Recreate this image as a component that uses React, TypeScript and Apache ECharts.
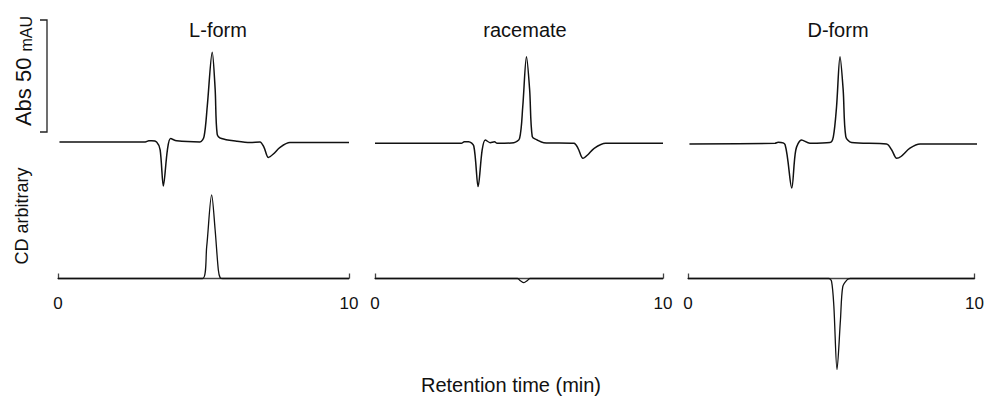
import React, { useEffect, useRef } from "react";
import * as echarts from "echarts";

const panelTitles = ["L-form", "racemate", "D-form"];
const xAxisTitle = "Retention time (min)";
const absLabel = "Abs 50 ";
const absUnit = "mAU";
const cdLabel = "CD arbitrary";
const xMin = 0;
const xMax = 10;

// [time (min), absorbance (mAU, relative to baseline)]
const lFormAbs = [
  [0.05, 0], [3.0, 0], [3.12, 0.5], [3.22, 0.5], [3.39, 0], [3.51, -3.5], [3.62, -19.7],
  [3.76, -3.5], [3.87, 1.5], [4.08, 0.5], [4.88, 0], [5.02, 2.5], [5.13, 16], [5.3, 40],
  [5.4, 23.6], [5.47, 3.5], [5.62, 1.5], [6.14, 0.3], [6.6, -0.3], [6.94, 0], [7.08, -2.4],
  [7.23, -6.9], [7.4, -5.4], [7.63, -2.4], [7.97, -0.3], [10.0, -0.3],
];
const racemateAbs = [
  [0, 0], [3.0, 0], [3.1, 0.7], [3.25, 0.7], [3.43, -1.2], [3.58, -19.3], [3.72, -3],
  [3.83, 1.5], [4.0, 0.3], [4.15, 0.7], [4.24, 0], [4.82, 0.3], [5.02, 2.2], [5.13, 16.3],
  [5.26, 38.6], [5.37, 23.8], [5.46, 3], [5.63, 1.5], [5.86, 0.3], [6.91, 0], [7.05, -2.2],
  [7.22, -6.7], [7.38, -5.2], [7.61, -2.2], [8.01, 0], [10.0, 0],
];
const dFormAbs = [
  [0.05, 0], [3.01, 0.3], [3.12, 0.7], [3.36, -0.4], [3.59, -19.7], [3.73, -2.7], [3.93, 1.8],
  [4.22, 0.3], [4.91, 0.6], [5.03, 3.3], [5.14, 16.6], [5.26, 38.9], [5.37, 24], [5.46, 3.3],
  [5.66, 0.6], [6.87, 0], [7.05, -2.7], [7.22, -6.4], [7.37, -5.6], [7.68, -1.9], [8.03, 0],
  [10.0, 0],
];

// [time (min), CD signal (arbitrary)]
const lFormCD = [
  [0, 0], [4.97, 0], [5.11, 34.6], [5.28, 90.8], [5.4, 52.7], [5.51, 9.2], [5.57, 1], [5.66, 0], [10, 0],
];
const racemateCD = [
  [0, 0], [4.95, 0], [5.05, -2.5], [5.17, -4.5], [5.28, -2.5], [5.38, 0], [10, 0],
];
const dFormCD = [
  [0, 0], [4.91, 0], [5.01, -3], [5.09, -30], [5.2, -99], [5.32, -45], [5.4, -9], [5.55, -1.5], [5.66, 0], [10, 0],
];

const absTraces = [lFormAbs, racemateAbs, dFormAbs];
const cdTraces = [lFormCD, racemateCD, dFormCD];

const FONT = "'Liberation Sans', Arial, Helvetica, sans-serif";
const INK = "#111";

export default function App() {
  const ref = useRef<HTMLDivElement>(null);

  useEffect(() => {
    if (!ref.current) return;
    const chart = echarts.init(ref.current, undefined, { renderer: "svg" });

    const lefts = [58, 375, 688];
    const widths = [291, 288, 289];
    const topTops = [41, 42.4, 43];

    const grids: any[] = [];
    const xAxes: any[] = [];
    const yAxes: any[] = [];
    const series: any[] = [];

    for (let i = 0; i < 3; i++) {
      // absorbance grid
      grids.push({ left: lefts[i], width: widths[i], top: topTops[i], height: 157 });
      xAxes.push({ type: "value", gridIndex: 2 * i, min: xMin, max: xMax, show: false });
      yAxes.push({ type: "value", gridIndex: 2 * i, min: -25, max: 45, show: false });
      series.push({
        type: "line",
        xAxisIndex: 2 * i,
        yAxisIndex: 2 * i,
        data: absTraces[i],
        showSymbol: false,
        symbol: "none",
        smooth: 0.3,
        lineStyle: { color: INK, width: 1.5 },
      });
      // CD grid: bottom edge is the zero line; negative signals drawn unclipped below it
      grids.push({ left: lefts[i], width: widths[i], top: 186.5, height: 92 });
      xAxes.push({
        type: "value",
        gridIndex: 2 * i + 1,
        min: xMin,
        max: xMax,
        interval: 10,
        axisLine: { show: true, onZero: false, lineStyle: { color: "#444", width: 1.3 } },
        axisTick: { show: true, inside: true, length: 5, lineStyle: { color: "#444", width: 1.3 } },
        axisLabel: { show: true, margin: 16, fontSize: 17, color: INK, fontFamily: FONT },
        splitLine: { show: false },
      });
      yAxes.push({ type: "value", gridIndex: 2 * i + 1, min: 0, max: 100, show: false });
      series.push({
        type: "line",
        xAxisIndex: 2 * i + 1,
        yAxisIndex: 2 * i + 1,
        data: cdTraces[i],
        clip: false,
        showSymbol: false,
        symbol: "none",
        smooth: 0.3,
        lineStyle: { color: INK, width: 1.3 },
      });
    }

    const titleX = [218, 525, 838];
    const graphics: any[] = panelTitles.map((t, i) => ({
      type: "text",
      x: titleX[i],
      y: 30,
      style: {
        text: t,
        font: `20px ${FONT}`,
        fill: INK,
        textAlign: "center",
        textVerticalAlign: "middle",
        verticalAlign: "middle",
      },
    }));

    graphics.push({
      type: "text",
      x: 511,
      y: 385,
      style: {
        text: xAxisTitle,
        font: `20px ${FONT}`,
        fill: INK,
        textAlign: "center",
        textVerticalAlign: "middle",
        verticalAlign: "middle",
      },
    });

    graphics.push({
      type: "text",
      x: 23,
      y: 71,
      rotation: Math.PI / 2,
      style: {
        text: `{a|${absLabel}}{b|${absUnit}}`,
        fill: INK,
        textAlign: "center",
        textVerticalAlign: "middle",
        verticalAlign: "middle",
        rich: {
          a: { fontSize: 22, fontFamily: FONT, fill: INK, verticalAlign: "bottom" },
          b: { fontSize: 16, fontFamily: FONT, fill: INK, verticalAlign: "bottom" },
        },
      },
    });

    graphics.push({
      type: "text",
      x: 22,
      y: 216,
      rotation: Math.PI / 2,
      style: {
        text: cdLabel,
        font: `18px ${FONT}`,
        fill: INK,
        textAlign: "center",
        textVerticalAlign: "middle",
        verticalAlign: "middle",
      },
    });

    graphics.push({
      type: "polyline",
      shape: { points: [[40, 20], [47, 20], [47, 132], [40, 132]] },
      style: { stroke: "#222", lineWidth: 1.3, fill: "none" },
    });

    chart.setOption({
      animation: false,
      backgroundColor: "#fff",
      grid: grids,
      xAxis: xAxes,
      yAxis: yAxes,
      series,
      graphic: graphics,
    });

    return () => chart.dispose();
  }, []);

  return (
    <div
      ref={ref}
      style={{ position: "fixed", left: 0, top: 0, width: 987, height: 399 }}
    />
  );
}
